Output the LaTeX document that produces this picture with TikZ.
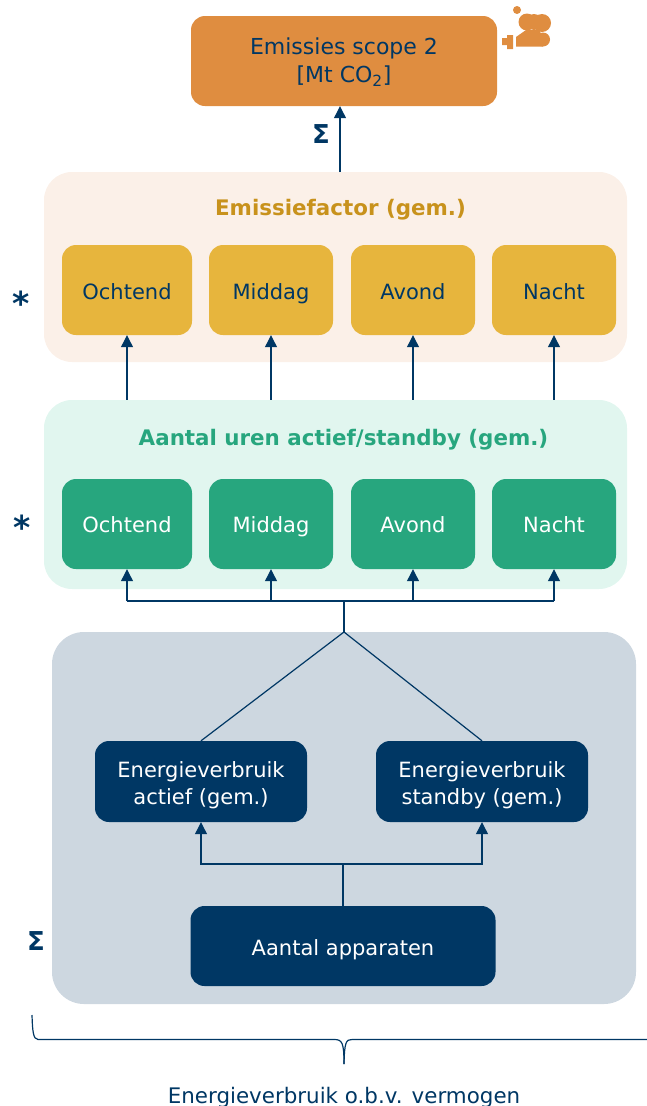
\documentclass[tikz,border=0pt]{standalone}
\usepackage{fontspec}
\setmainfont{DejaVu Sans}
\usetikzlibrary{arrows.meta,calc}
\definecolor{navy}{HTML}{003764}
\definecolor{orangeb}{HTML}{DF8D40}
\definecolor{peach}{HTML}{FBF0E8}
\definecolor{yellowb}{HTML}{E7B53D}
\definecolor{goldt}{HTML}{C8921C}
\definecolor{mint}{HTML}{E1F6EF}
\definecolor{greenb}{HTML}{27A67E}
\definecolor{greyb}{HTML}{CDD7E0}
\tikzset{
  box/.style={rounded corners=14pt,inner sep=0pt,align=center,font=\fontsize{21}{27}\selectfont},
  panel/.style={rounded corners=28pt,inner sep=0pt},
  ybox/.style={box,fill=yellowb,text=navy,minimum height=90pt,text height=19pt,text depth=0pt},
  gbox/.style={box,fill=greenb,text=white,minimum height=90pt,text height=17.5pt,text depth=0pt},
  nbox/.style={box,fill=navy,text=white},
  conn/.style={draw=navy,line width=1.2pt},
  arr/.style={conn,-{Triangle[length=12pt,width=12pt]}},
  sym/.style={text=navy,font=\bfseries\fontsize{26}{28}\selectfont,inner sep=0pt},
  star/.style={sym,font=\bfseries\fontsize{33}{33}\selectfont},
  title/.style={font=\bfseries\fontsize{21.4}{26}\selectfont,inner sep=0pt}
}
\begin{document}
\begin{tikzpicture}[x=1pt,y=-1pt]
\useasboundingbox (0,0) rectangle (647,1106);
% panels
\node[panel,fill=peach,minimum width=583pt,minimum height=190pt] (pp) at (335.5,267) {};
\node[panel,fill=mint,minimum width=583pt,minimum height=189pt] (pm) at (335.5,494.5) {};
\node[panel,fill=greyb,rounded corners=32pt,minimum width=584pt,minimum height=372pt] (pg) at (344,818) {};
% top
\node[box,fill=orangeb,text=navy,minimum width=306pt,minimum height=90pt,font=\fontsize{22}{28}\selectfont,text height=44pt,text depth=1pt] (em) at (344,61) {Emissies scope 2\\{}[Mt CO\textsubscript{2}]};
% icon
\fill[orangeb] (517,10) circle (4pt);
\fill[orangeb] (527,22) circle (8.5pt) (542,23) circle (9pt) (534,22) circle (8pt);
\fill[orangeb] (516,46.5) -- (516,37) -- (526,30) -- (540,30) -- (543,46.5) -- cycle;
\fill[orangeb] (543,39.5) circle (7pt);
\fill[orangeb] (502,38) rectangle (508,45) (507,35) rectangle (513,49);
% titles
\node[title,text=goldt] (tp) at (340.5,210) {Emissiefactor (gem.)};
\node[title,text=greenb] (tm) at (343.5,440) {Aantal uren actief/standby (gem.)};
% yellow
\node[ybox,minimum width=130pt] (y1) at (127,290) {Ochtend};
\node[ybox,minimum width=124pt] (y2) at (271,290) {Middag};
\node[ybox,minimum width=124pt] (y3) at (413,290) {Avond};
\node[ybox,minimum width=124pt] (y4) at (554,290) {Nacht};
% green
\node[gbox,minimum width=130pt] (g1) at (127,524) {Ochtend};
\node[gbox,minimum width=124pt] (g2) at (271,524) {Middag};
\node[gbox,minimum width=124pt] (g3) at (413,524) {Avond};
\node[gbox,minimum width=124pt] (g4) at (554,524) {Nacht};
% navy
\node[nbox,minimum width=212pt,minimum height=81pt,text height=45pt,text depth=0pt] (e1) at (201,781.5) {Energieverbruik\\actief (gem.)};
\node[nbox,minimum width=212pt,minimum height=81pt,text height=45pt,text depth=0pt] (e2) at (482,781.5) {Energieverbruik\\standby (gem.)};
\node[nbox,minimum width=305pt,minimum height=80pt,text height=18pt,text depth=0pt] (aa) at (343,946) {Aantal apparaten};
% symbols
\node[sym] (s1) at (321,134) {Σ};
\node[sym] (s2) at (36,941) {Σ};
\node[star] (a1) at (21.5,303.5) {*};
\node[star] (a2) at (22.5,527.5) {*};
% connectors
\coordinate (c0) at (340,172);
\draw[arr] (c0) -- (c0 |- em.south);
\foreach \i in {1,2,3,4}{
  \draw[arr] (y\i.south |- pm.north) -- (y\i.south);
}
\coordinate (b0) at (344,601);
\coordinate (gt) at (344,632);
\foreach \i in {1,2,3,4}{
  \draw[arr] (g\i.south |- b0) -- (g\i.south);
}
\draw[conn] (g1.south |- b0) -- (g4.south |- b0);
\draw[conn] (gt) -- (b0);
\draw[conn] (e1.north) -- (gt) -- (e2.north);
\coordinate (b1) at (343,864);
\draw[arr] (b1) -| (e1.south);
\draw[arr] (b1) -| (e2.south);
\draw[conn] (aa.north) -- (b1);
% brace
\coordinate (bl) at (32,1015);
\coordinate (br) at (647,1039.5);
\coordinate (bt) at (344,1064);
\draw[conn] (bl) .. controls (32.5,1030) and (33,1039.5) .. (38,1039.5) -- (334,1039.5) .. controls (342,1039.5) and (344,1042) .. (bt);
\draw[conn] (bt) .. controls (344.5,1042) and (346,1039.5) .. (352,1039.5) -- (br);
\node[text=navy,font=\fontsize{21.4}{24}\selectfont,inner sep=0pt,anchor=base] (lb) at (344,1103) {Energieverbruik o.b.v. vermogen};
\end{tikzpicture}
\end{document}
